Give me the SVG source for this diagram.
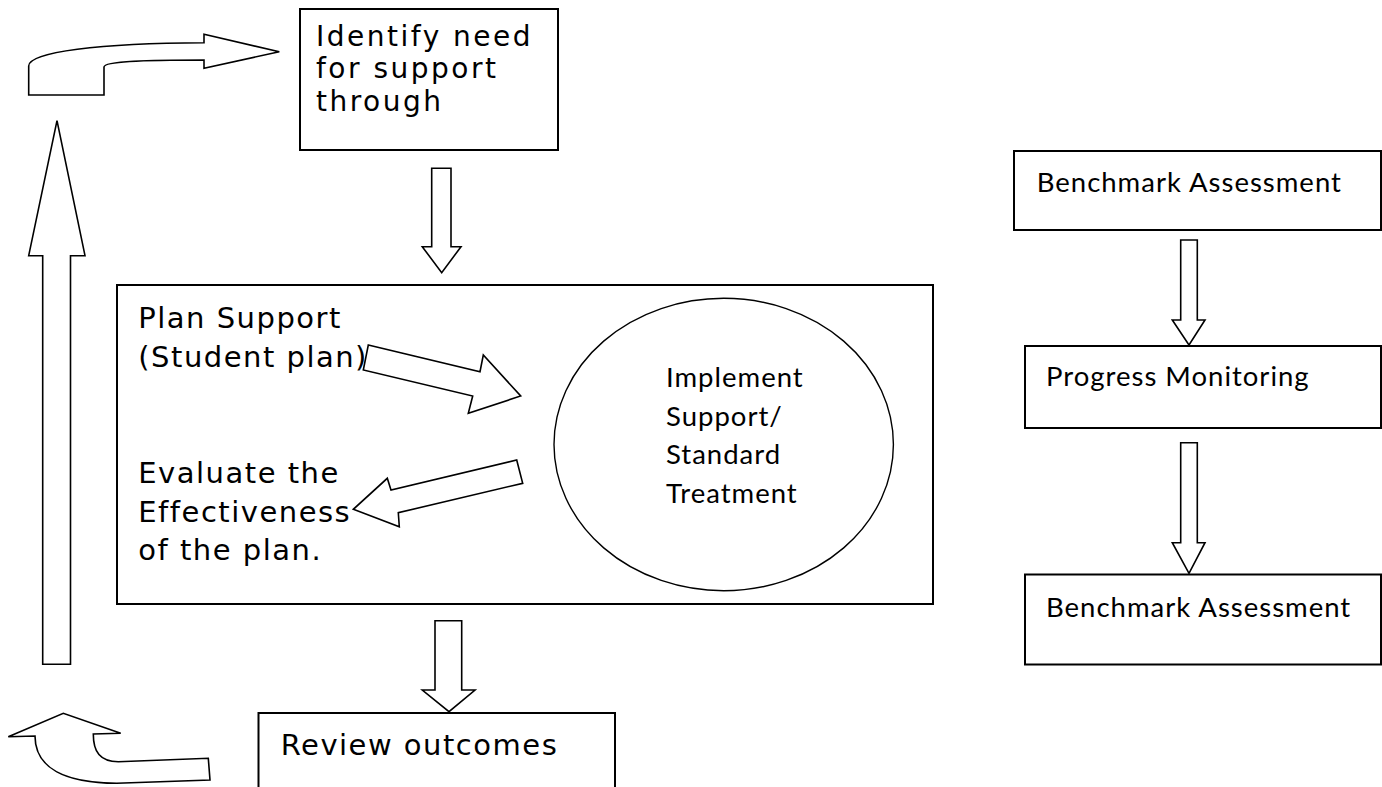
<svg xmlns="http://www.w3.org/2000/svg" width="1382" height="787" viewBox="0 0 1382 787">
  <style>
    .box { fill: #fff; stroke: #000; stroke-width: 2; }
    .arrow { fill: #fff; stroke: #000; stroke-width: 1.6; stroke-linejoin: miter; }
    .oval { fill: #fff; stroke: #000; stroke-width: 1.4; }
    .v { font-family: "DejaVu Sans", Verdana, sans-serif; font-size: 29px; letter-spacing: 1.5px; fill: #000; }
    .v.tight { font-size: 28px; letter-spacing: 2.5px; }
    .c { font-family: Lato, "Open Sans", sans-serif; font-size: 27.5px; letter-spacing: 1px; fill: #000; }
  </style>
  <rect width="1382" height="787" fill="#fff"/>

  <!-- main cycle -->
  <g id="identify">
    <rect class="box" x="300" y="9" width="258" height="141"/>
    <text class="v tight"><tspan x="316" y="45.5">Identify need</tspan><tspan x="316" y="78">for support</tspan><tspan x="316" y="110.5">through</tspan></text>
  </g>

  <g id="plan-box">
    <rect class="box" x="117" y="285" width="816" height="319"/>
  </g>

  <g id="implement">
    <ellipse class="oval" cx="723.7" cy="444.5" rx="169.7" ry="146.2"/>
    <text class="c"><tspan x="666" y="386.5">Implement</tspan><tspan x="666" y="426">Support/</tspan><tspan x="666" y="464.3">Standard</tspan><tspan x="666" y="502.7">Treatment</tspan></text>
  </g>

  <g id="review">
    <rect class="box" x="258.5" y="713" width="356.5" height="90"/>
    <text class="v" x="280.7" y="755">Review outcomes</text>
  </g>

  <!-- monitoring column -->
  <g id="benchmark-1">
    <rect class="box" x="1014" y="151" width="367" height="79"/>
    <text class="c" x="1036.7" y="191.7">Benchmark Assessment</text>
  </g>
  <g id="progress">
    <rect class="box" x="1025" y="346" width="356" height="82"/>
    <text class="c" x="1046" y="386">Progress Monitoring</text>
  </g>
  <g id="benchmark-2">
    <rect class="box" x="1025" y="574.5" width="356" height="90"/>
    <text class="c" x="1046" y="616.7">Benchmark Assessment</text>
  </g>

  <g id="connectors">
    <!-- curved arrow into "Identify need" -->
    <path class="arrow" d="M28.7,95 L28.7,66 C28.7,52 100,43 204,42.7 L204,34.3 L279.3,51.7 L204,68.3 L204,60 C150,60 104,61 104,67 L104,95 Z"/>
    <!-- tall upward arrow -->
    <path class="arrow" d="M42.7,664.3 L42.7,255.7 L28.7,255.7 L57,120.7 L85,255.7 L70.5,255.7 L70.5,664.3 Z"/>
    <!-- curved arrow leaving "Review outcomes" -->
    <path class="arrow" d="M8.3,736.7 L63.3,713.3 L120.7,733.3 L93.3,734 C93.3,752 100,761.7 118.3,761.7 L208.3,758.3 L210,780 L116.7,783.3 C65,783 35,768 35,736 Z"/>
    <!-- down into plan box -->
    <path class="arrow" d="M431.7,168.3 L451,168.3 L451,246.7 L461,246.7 L441.7,272.7 L422.3,246.7 L431.7,246.7 Z"/>
    <!-- plan -> implement -->
    <path class="arrow" d="M368.3,345 L480,371.7 L483.3,355 L520.7,396 L468.3,413.3 L472.7,396 L363.3,370 Z"/>
    <!-- implement -> evaluate -->
    <path class="arrow" d="M516.7,460 L522.7,483.3 L398.3,512.7 L399.3,526.7 L353.3,509.3 L387.3,478.3 L391,490 Z"/>
    <!-- plan box -> review -->
    <path class="arrow" d="M435,620.7 L461.7,620.7 L461.7,690 L475,690 L449,711.7 L422.3,690 L435,690 Z"/>
    <!-- benchmark -> progress -->
    <path class="arrow" d="M1180.7,240 L1197.3,240 L1197.3,320 L1205,320 L1189,345 L1172.3,320 L1180.7,320 Z"/>
    <!-- progress -> benchmark -->
    <path class="arrow" d="M1180.7,442.7 L1197.3,442.7 L1197.3,542.7 L1205,542.7 L1189,573.3 L1172.3,542.7 L1180.7,542.7 Z"/>
  </g>

  <!-- labels beside the inner arrows -->
  <g id="plan-labels">
    <text class="v"><tspan x="138.3" y="328.3">Plan Support</tspan><tspan x="138.3" y="366.7">(Student plan)</tspan></text>
    <text class="v"><tspan x="138.3" y="483.3">Evaluate the</tspan><tspan x="138.3" y="521.7">Effectiveness</tspan><tspan x="138.3" y="560">of the plan.</tspan></text>
  </g>
</svg>
